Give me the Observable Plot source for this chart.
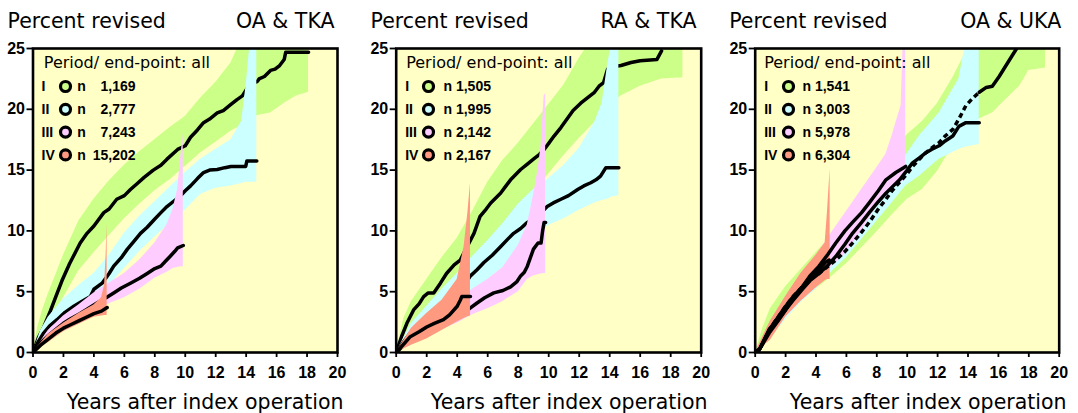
<!DOCTYPE html>
<html><head><meta charset="utf-8">
<script src="https://cdn.jsdelivr.net/npm/d3@7"></script>
<script src="https://cdn.jsdelivr.net/npm/@observablehq/plot@0.6"></script>
<style>
body{margin:0;background:#fff;}
#row{display:flex;width:1078px;height:413px;}
#row > div{flex:none;}
svg{display:block;}
</style></head><body><div id="row"></div>
<script>
// ---------- data ----------
const periods = ["I","II","III","IV"];
const panelTitles = ["OA & TKA","RA & TKA","OA & UKA"];
const yTitle = "Percent revised";
const xTitle = "Years after index operation";
const legendTitle = "Period/ end-point: all";
const xTicks = [0,2,4,6,8,10,12,14,16,18,20];
const yTicks = [0,5,10,15,20,25];
const oaTka_n = ["1,169","2,777","7,243","15,202"];
const raTka_n = ["1,505","1,995","2,142","2,167"];
const oaUka_n = ["1,541","3,003","5,978","6,304"];

// OA & TKA  [years, percent]  and  [years, lower, upper]
const oaTka_I_est = [[0,0],[0.35,1.2],[0.71,2.1],[1.15,3.45],[1.5,4.6],[1.9,5.9],[2.4,7.3],[3.1,9.0],[3.55,9.8],[4.0,10.4],[4.65,11.5],[5.0,11.8],[5.5,12.6],[6.0,12.9],[6.4,13.4],[6.85,13.9],[7.3,14.4],[7.9,15.0],[8.4,15.4],[8.8,15.9],[9.5,16.7],[10.0,17.0],[10.35,17.7],[10.8,18.3],[11.2,18.9],[11.6,19.2],[12.1,19.7],[12.5,19.9],[13.0,20.4],[13.4,20.8],[13.75,21.1],[14.0,21.6],[14.2,22.0],[14.74,22.3],[14.85,22.5],[15.2,22.7],[15.6,23.2],[15.9,23.3],[16.2,23.6],[16.5,24.1],[16.6,24.7],[18.1,24.7]];
const oaTka_I_ci = [[0,0,0],[0.3,0.6,2.0],[0.6,1.4,3.4],[1,2.2,4.8],[1.5,3.4,6.4],[2,4.5,8.0],[3,6.7,10.8],[4,8.2,12.6],[5,9.6,14.1],[6,11.0,15.4],[7,12.2,16.5],[8,13.3,17.5],[9,14.2,18.5],[10,15.3,19.4],[11,16.4,20.9],[12,17.3,22.2],[13,18.2,23.8],[13.6,18.6,25.5],[14.74,19.5,28],[15.6,19.7,30],[16.5,20.5,30],[17.3,21.1,30],[18.1,21.4,30]];
const oaTka_II_est = [[0,0],[0.35,0.9],[0.7,1.6],[1.1,2.2],[1.58,2.7],[2.1,3.3],[2.68,3.8],[3.2,4.2],[3.77,4.6],[4.0,5.2],[4.54,5.7],[5.0,6.5],[5.3,7.1],[5.8,7.8],[6.2,8.5],[6.6,9.1],[7.06,9.8],[7.5,10.3],[7.94,10.9],[8.4,11.5],[8.8,12.0],[9.3,12.5],[9.7,12.9],[10.0,13.3],[10.35,13.7],[10.8,14.3],[11.2,14.8],[11.6,15.0],[12.1,15.05],[12.6,15.2],[13.0,15.3],[13.97,15.3],[14.05,15.75],[14.7,15.75]];
const oaTka_II_ci = [[0,0,0],[0.5,0.8,1.8],[1,1.5,2.9],[2,2.6,4.4],[3,3.4,5.5],[4,4.3,6.5],[5,5.5,8.0],[6,6.9,9.8],[7,8.3,11.2],[8,9.5,12.4],[9,10.6,13.6],[10,11.7,14.8],[11,13.0,15.9],[12,13.5,16.7],[13,13.7,17.5],[13.7,13.9,19.0],[14.0,14.0,22.0],[14.3,14.0,26.0],[14.7,14.0,28.0]];
const oaTka_III_est = [[0,0],[0.5,0.8],[0.92,1.3],[1.5,1.9],[2.0,2.4],[2.5,2.8],[3.1,3.2],[3.6,3.6],[4.2,4.07],[4.8,4.5],[5.3,4.9],[5.8,5.3],[6.4,5.7],[7.0,6.1],[7.5,6.5],[8.0,6.9],[8.4,7.1],[8.7,7.5],[9.0,7.9],[9.3,8.3],[9.5,8.6],[9.87,8.8]];
const oaTka_III_ci = [[0,0,0],[1,0.9,1.8],[2,1.9,3.0],[3,2.6,3.9],[4,3.4,4.9],[5,4.0,5.7],[6,4.5,6.5],[7,5.2,7.6],[8,6.1,9.0],[8.8,6.6,10.5],[9.2,6.9,11.8],[9.5,7.0,13.4],[9.7,7.05,16.0],[9.87,7.05,18.0]];
const oaTka_IV_est = [[0,0],[0.5,0.6],[1,1.1],[1.5,1.6],[2,2.0],[2.5,2.3],[3,2.6],[3.5,2.9],[4,3.2],[4.5,3.4],[4.87,3.7]];
const oaTka_IV_ci = [[0,0,0],[1,0.8,1.5],[2,1.7,2.4],[3,2.3,3.2],[4,2.9,3.9],[4.5,3.0,4.5],[4.7,3.05,5.5],[4.8,3.05,8.0],[4.87,3.05,10.6]];

// RA & TKA
const raTka_I_est = [[0,0],[0.35,1.3],[0.7,2.4],[1.14,3.5],[1.5,4.0],[1.8,4.6],[2.1,4.9],[2.46,4.9],[2.9,5.7],[3.3,6.5],[3.8,7.2],[4.2,7.6],[4.65,8.7],[5.1,9.8],[5.5,11.2],[5.9,11.8],[6.2,12.3],[6.84,13.1],[7.2,13.7],[7.5,14.2],[8.16,15.05],[8.6,15.5],[9.0,15.9],[9.4,16.3],[9.7,16.7],[10.0,17.2],[10.35,17.8],[10.8,18.5],[11.2,19.2],[11.6,19.9],[12.1,20.5],[12.6,21.0],[13.0,21.4],[13.3,21.9],[13.6,22.2],[13.86,23.3],[14.2,23.5],[14.74,23.6],[15.4,23.85],[16.0,24.0],[17.1,24.1],[17.4,24.8]];
const raTka_I_ci = [[0,0,0],[0.5,0.9,2.8],[1,1.9,4.2],[2,3.5,6.0],[3,4.8,7.8],[4,6.0,9.4],[5,7.3,11.6],[6,8.9,14.0],[7,10.5,15.8],[8,11.8,17.2],[9,13.1,18.8],[10,14.7,20.4],[11,16.2,22.0],[12,17.6,24.2],[13,18.9,26],[14,20.3,28],[14.74,21.1,30],[16,21.9,30],[17.4,22.5,30],[18.8,22.6,30]];
const raTka_II_est = [[0,0],[0.5,0.9],[0.92,1.6],[1.5,2.2],[2.0,2.7],[2.5,3.2],[3.1,3.8],[3.6,4.3],[4.2,4.9],[4.5,5.6],[4.87,6.3],[5.3,6.8],[5.75,7.4],[6.3,8.0],[6.84,8.7],[7.3,9.3],[7.7,9.8],[8.16,10.2],[8.6,10.7],[9.0,11.0],[9.5,11.5],[9.9,12.0],[10.3,12.3],[10.8,12.6],[11.3,12.9],[11.9,13.4],[12.3,13.7],[12.76,13.96],[13.1,14.2],[13.4,14.5],[13.75,15.2],[14.6,15.2]];
const raTka_II_ci = [[0,0,0],[1,0.9,2.4],[2,1.6,3.8],[3,2.6,5.2],[4,3.6,6.5],[5,4.9,7.9],[6,6.0,9.2],[7,7.0,10.6],[8,8.1,12.2],[9,9.2,13.4],[9.9,10.4,14.2],[11,11.0,15.4],[12,11.7,16.8],[13,12.3,18.9],[13.5,12.5,20.5],[13.86,12.6,23.6],[14.2,12.8,26],[14.6,12.9,28]];
const raTka_III_est = [[0,0],[0.5,0.6],[0.92,1.04],[1.5,1.4],[2.0,1.87],[2.5,2.2],[3.1,2.7],[3.6,2.9],[4.2,3.2],[4.8,3.6],[5.3,4.07],[5.8,4.5],[6.4,4.9],[7.0,5.1],[7.5,5.4],[7.9,5.8],[8.16,6.3],[8.4,6.6],[8.6,7.1],[8.8,7.8],[9.0,8.5],[9.3,9.0],[9.5,9.0],[9.6,10.0],[9.7,10.7],[9.8,10.7]];
const raTka_III_ci = [[0,0,0],[1,0.6,1.6],[2,1.3,2.6],[3,1.9,3.5],[4,2.4,4.2],[5,3.1,5.2],[6,3.6,6.0],[7,4.2,7.0],[8,5.0,8.8],[8.6,6.0,10.5],[9,6.3,12.9],[9.3,6.4,15.0],[9.5,6.45,17.0],[9.7,6.5,21.1],[9.8,6.5,21.3]];
const raTka_IV_est = [[0,0],[0.5,0.7],[0.92,1.3],[1.5,1.7],[2.0,2.1],[2.5,2.4],[3.1,2.7],[3.5,3.1],[4.0,3.8],[4.2,4.3],[4.3,4.6],[4.87,4.6]];
const raTka_IV_ci = [[0,0,0],[1,0.6,2.0],[2,1.1,3.2],[3,1.8,4.3],[4,2.5,6.0],[4.45,2.8,8.7],[4.7,2.95,11.5],[4.87,3.0,13.9]];

// OA & UKA
const oaUka_I_est = [[0,0],[0.26,0.16],[0.6,1.0],[0.92,1.87],[1.5,2.9],[2.0,3.8],[2.5,4.6],[3.1,5.4],[3.6,6.0],[4.2,6.5],[4.8,7.1],[5.3,7.6],[5.9,8.3],[6.4,9.0],[7.0,9.9],[7.5,10.7],[8.1,11.8],[8.6,12.6],[9.0,13.3],[9.5,14.0],[10.0,14.7],[10.35,15.3],[10.8,15.9],[11.2,16.4],[11.6,16.8],[12.1,17.25],[12.5,17.8],[13.0,18.35],[13.4,19.2],[13.86,20.3],[14.3,20.9],[14.74,21.4],[15.2,21.8],[15.6,21.9],[16.05,22.7],[16.5,23.6],[16.9,24.4],[17.15,24.9],[17.3,25.2]];
const oaUka_I_dashedUntil = 14.74;
const oaUka_I_ci = [[0,0,0],[0.5,0.5,2.0],[1,1.2,3.6],[2,2.9,5.4],[3,4.2,6.8],[4,5.2,8.2],[5,6.2,9.6],[6,7.3,11.2],[7,8.6,12.8],[8,9.9,14.6],[9,11.3,16.4],[10,12.6,17.9],[11,13.4,19.0],[12,14.9,20.5],[13,17.0,22.6],[13.86,18.6,24.7],[14.74,19.2,27],[15.6,19.7,30],[16.5,20.8,30],[17.4,21.9,30],[18,23.2,30],[19.1,23.4,30]];
const oaUka_II_est = [[0,0],[0.3,0.3],[0.92,1.87],[1.5,2.7],[2.0,3.5],[2.5,4.3],[3.1,5.2],[3.6,5.9],[4.2,6.5],[4.8,7.2],[5.3,7.9],[5.9,8.9],[6.4,9.8],[7.0,10.7],[7.5,11.5],[8.1,12.4],[8.6,13.1],[9.0,13.6],[9.5,14.2],[10.0,15.0],[10.35,15.6],[10.8,16.0],[11.2,16.4],[11.6,16.7],[12.1,17.0],[12.5,17.4],[13.0,17.8],[13.4,18.6],[13.86,18.9],[14.74,18.9]];
const oaUka_II_ci = [[0,0,0],[1,1.2,2.4],[2,2.7,4.1],[3,4.1,5.8],[4,5.2,6.9],[5,6.6,8.4],[6,7.8,9.9],[7,9.3,11.3],[8,10.8,12.8],[9,12.3,14.4],[9.9,13.7,16.2],[10.8,14.5,17.8],[12.1,15.9,19.7],[13.4,16.7,22.5],[13.86,16.9,25.5],[14.74,17.1,28]];
const oaUka_III_est = [[0,0],[0.3,0.3],[0.92,1.6],[1.5,2.6],[2.0,3.5],[2.5,4.5],[3.1,5.4],[3.6,6.3],[4.2,7.1],[4.8,8.1],[5.3,9.0],[5.9,10.0],[6.4,10.7],[7.0,11.5],[7.5,12.3],[8.1,13.3],[8.6,14.2],[9.25,14.8],[9.9,15.3]];
const oaUka_III_ci = [[0,0,0],[1,1.2,2.2],[2,3.0,4.3],[3,4.6,6.2],[4,5.8,7.9],[5,7.0,9.8],[6,8.2,11.6],[7,10.0,13.4],[8,12.0,15.2],[8.6,13.1,16.3],[9.0,13.5,17.8],[9.4,13.8,19.5],[9.6,14.0,20.3],[9.75,14.1,26],[9.9,14.2,30]];
const oaUka_IV_est = [[0,0],[0.3,0.3],[0.92,1.87],[1.5,2.9],[2.0,3.8],[2.5,4.6],[3.1,5.4],[3.6,6.1],[4.2,6.8],[4.6,7.4],[4.87,7.6]];
const oaUka_IV_ci = [[0,0,0],[1,1.0,2.6],[2,2.9,4.6],[3,4.2,6.5],[4,5.3,8.0],[4.6,5.9,9.0],[4.75,6.0,11.5],[4.93,6.0,15.1]];

// ---------- styles ----------
const BG = "#FFFFC6";
const COLORS = ["#CCFF88","#CCFFFF","#FFCCFF","#FF9A80"];
const FONT_NUM = "'Liberation Sans', Arial, Helvetica, sans-serif";
const FONT_TXT = "'DejaVu Sans', Verdana, sans-serif";
const LINE_W = 3.5;

const panels = [
  {title: panelTitles[0], n: oaTka_n, wide: true,
   series: [[oaTka_I_ci,oaTka_I_est],[oaTka_II_ci,oaTka_II_est],[oaTka_III_ci,oaTka_III_est],[oaTka_IV_ci,oaTka_IV_est]],
   width: 360, ml: 32.5, mr: 23, tdx: -25.5, rdx: -3, xdx: 6,
   hdx: 10.8, ndx: 8.5, cdx: 32.5, nndx: 44.2, numdx: 102.5},
  {title: panelTitles[1], n: raTka_n, wide: false,
   series: [[raTka_I_ci,raTka_I_est],[raTka_II_ci,raTka_II_est],[raTka_III_ci,raTka_III_est],[raTka_IV_ci,raTka_IV_est]],
   width: 358, ml: 35.7, mr: 17.3, tdx: -25.7, rdx: -4.7, xdx: 6.3,
   hdx: 10, ndx: 9, cdx: 32.3, nndx: 47.3},
  {title: panelTitles[2], n: oaUka_n, wide: false, dashedFirst: oaUka_I_dashedUntil, bandsFirst: true,
   series: [[oaUka_I_ci,oaUka_I_est],[oaUka_II_ci,oaUka_II_est],[oaUka_III_ci,oaUka_III_est],[oaUka_IV_ci,oaUka_IV_est]],
   width: 360, ml: 36.7, mr: 19.3, tdx: -26, rdx: 2, xdx: 7.3,
   hdx: 9, ndx: 9, cdx: 33.3, nndx: 47.3}
];

function makePanel(p) {
  const marks = [Plot.frame({fill: BG, stroke: null})];
  const bandMark = (ci, i) => Plot.areaY(ci, {x: d => d[0], y1: d => d[1], y2: d => d[2], fill: COLORS[i], clip: true});
  const lineMarks = (est, i) => {
    const lineOpts = {x: d => d[0], y: d => d[1], stroke: "black", strokeWidth: LINE_W, strokeLinejoin: "round", clip: true};
    if (i === 0 && p.dashedFirst !== undefined) {
      return [
        Plot.line(est.filter(d => d[0] <= p.dashedFirst), {...lineOpts, strokeDasharray: "5,3.5", strokeLinecap: "butt"}),
        Plot.line(est.filter(d => d[0] >= p.dashedFirst), {...lineOpts, strokeLinecap: "round"})
      ];
    }
    return [Plot.line(est, {...lineOpts, strokeLinecap: "round"})];
  };
  if (p.bandsFirst) {
    p.series.forEach(([ci], i) => marks.push(bandMark(ci, i)));
    p.series.forEach(([, est], i) => marks.push(...lineMarks(est, i)));
  } else {
    p.series.forEach(([ci, est], i) => { marks.push(bandMark(ci, i)); marks.push(...lineMarks(est, i)); });
  }
  marks.push(Plot.frame({stroke: "black", strokeWidth: 2.6}));
  marks.push(Plot.axisY({ticks: yTicks, tickSize: 6, tickPadding: 2, fontSize: 16, fontWeight: "bold", label: null, strokeWidth: 1.8}));
  marks.push(Plot.axisX({ticks: xTicks, tickSize: 5, tickPadding: 9, fontSize: 16, fontWeight: "bold", label: null, strokeWidth: 1.8}));
  // titles
  const tOpt = {text: d => d, lineAnchor: "middle", fontSize: 20.5, fontFamily: FONT_TXT};
  marks.push(Plot.text([yTitle], {...tOpt, frameAnchor: "top-left", textAnchor: "start", dx: p.tdx, dy: -26.6}));
  marks.push(Plot.text([p.title], {...tOpt, frameAnchor: "top-right", textAnchor: "end", dx: p.rdx, dy: -26.6}));
  marks.push(Plot.text([xTitle], {...tOpt, frameAnchor: "bottom-right", textAnchor: "end", dx: p.xdx, dy: 49.9}));
  // legend
  marks.push(Plot.text([legendTitle], {text: d => d, lineAnchor: "middle", frameAnchor: "top-left", textAnchor: "start", dx: p.hdx, dy: 14.3, fontSize: 16, fontFamily: FONT_TXT}));
  const lOpt = {text: d => d, lineAnchor: "middle", frameAnchor: "top-left", fontSize: 14, fontWeight: "bold", fontFamily: FONT_NUM};
  periods.forEach((per, i) => {
    const dy = 38.3 + 22.8 * i;
    marks.push(Plot.text([per], {...lOpt, textAnchor: "start", dx: p.ndx, dy}));
    marks.push(Plot.dot([per], {frameAnchor: "top-left", dx: p.cdx, dy: dy - 0.3, r: 5, fill: COLORS[i], stroke: "black", strokeWidth: 3.2}));
    if (p.wide) {
      marks.push(Plot.text(["n"], {...lOpt, textAnchor: "start", dx: p.nndx, dy}));
      marks.push(Plot.text([p.n[i]], {...lOpt, textAnchor: "end", dx: p.numdx, dy}));
    } else {
      marks.push(Plot.text(["n " + p.n[i]], {...lOpt, textAnchor: "start", dx: p.nndx, dy}));
    }
  });
  return Plot.plot({
    width: p.width, height: 413,
    marginTop: 48, marginBottom: 61, marginLeft: p.ml, marginRight: p.mr,
    x: {domain: [0, 20]}, y: {domain: [0, 25]},
    style: {fontFamily: FONT_NUM, fontSize: "16px", background: "white", color: "black"},
    marks
  });
}

const row = document.getElementById("row");
panels.forEach(p => {
  const d = document.createElement("div");
  d.style.width = p.width + "px";
  d.appendChild(makePanel(p));
  row.appendChild(d);
});
</script>
</body></html>
